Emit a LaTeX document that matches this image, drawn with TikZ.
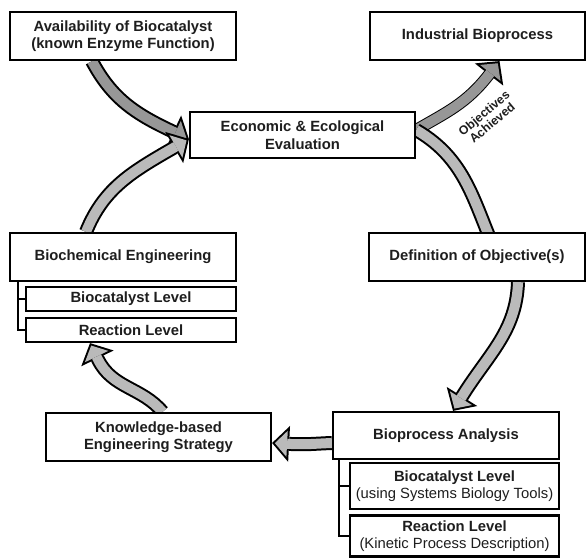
\documentclass[tikz,border=0pt]{standalone}
\usepackage{fontspec}
\setmainfont{Liberation Sans}
\usetikzlibrary{arrows.meta,backgrounds}
\definecolor{arrowdark}{HTML}{979797}
\definecolor{arrowlight}{HTML}{BABABA}
\definecolor{inktext}{HTML}{1E1E1E}
\tikzset{
  stagebox/.style={draw, line width=2.2pt, fill=white, align=center, inner sep=0pt,
    font=\fontsize{14.8}{17.5}\selectfont\bfseries, text=inktext},
  flow/.style={line width=14pt, draw=black,
    -{Triangle[length=17pt,width=36pt,line width=0pt]},
    postaction={draw=#1, line width=10pt, shorten >=2.75pt,
      -{Triangle[length=12.25pt,width=26pt,line width=0pt,fill=#1]}}},
  bracket/.style={line width=2pt},
}
\begin{document}
\begin{tikzpicture}[x=1pt,y=1pt]
\useasboundingbox (0,0) rectangle (588,557);

% Kreislauf oben
\node[stagebox, minimum width=226pt, minimum height=48pt] (avail) at (123,521)
  {Availability of Biocatalyst\\(known Enzyme Function)};
\node[stagebox, minimum width=225pt, minimum height=46pt] (econ) at (302.5,422)
  {Economic \& Ecological\\Evaluation};
\node[stagebox, minimum width=215pt, minimum height=48pt] (indus) at (477.5,521)
  {Industrial Bioprocess};

% links
\node[stagebox, minimum width=226pt, minimum height=48pt] (biochem) at (123,300)
  {Biochemical Engineering};
\node[stagebox, minimum width=210pt, minimum height=24pt] (bcllevel) at (131,258)
  {Biocatalyst Level};
\node[stagebox, minimum width=210pt, minimum height=24pt] (rllevel) at (131,227)
  {Reaction Level};
\draw[bracket] ([xshift=9pt]biochem.south west) |- (rllevel.west);
\draw[bracket] ([xshift=9pt]biochem.south west |- bcllevel.west) -- (bcllevel.west);

% rechts
\node[stagebox, minimum width=216pt, minimum height=48pt] (defobj) at (477,300)
  {Definition of Objective(s)};
\node[stagebox, minimum width=226pt, minimum height=47pt] (analysis) at (446,121.5)
  {Bioprocess Analysis};
\node[stagebox, minimum width=209pt, minimum height=46pt] (bclsystems) at (454.5,71)
  {Biocatalyst Level\\{\mdseries(using Systems Biology Tools)}};
\node[stagebox, minimum width=209pt, minimum height=41pt] (rlkinetic) at (454.5,21)
  {Reaction Level\\{\mdseries(Kinetic Process Description)}};
\draw[bracket] ([xshift=7pt]analysis.south west) |- (rlkinetic.west);
\draw[bracket] ([xshift=7pt]analysis.south west |- bclsystems.west) -- (bclsystems.west);

% unten
\node[stagebox, minimum width=225pt, minimum height=48pt] (strategy) at (158.5,120)
  {Knowledge-based\\Engineering Strategy};

% Pfeile (letztes Stueck gerade, damit die Spitze sauber sitzt)
\begin{scope}[on background layer]
  \draw[flow=arrowdark] ([xshift=-31pt]avail.south)
    to[out=-62,in=155] ([shift={(155:18pt)},yshift=-4pt]econ.west) -- ([yshift=-4pt]econ.west);
  \draw[flow=arrowlight] ([xshift=-37pt]biochem.north)
    to[out=68,in=-150] ([shift={(-150:18pt)},yshift=-4pt]econ.west) -- ([yshift=-4pt]econ.west);
  \draw[flow=arrowdark, line width=12pt] ([yshift=5pt]econ.east)
    to[out=30,in=-128] ([shift={(-128:18pt)},xshift=22pt]indus.south) -- ([xshift=22pt]indus.south);
  \draw[flow=arrowlight] ([yshift=5pt]econ.east)
    to[out=-30,in=116] ([shift={(116:18pt)},xshift=33pt]defobj.south) -- ([xshift=33pt]defobj.south);
  \draw[flow=arrowlight] ([xshift=41pt]defobj.south)
    to[out=-92,in=58] ([shift={(58:18pt)},xshift=7pt]analysis.north) -- ([xshift=7pt]analysis.north);
  \draw[flow=arrowlight] ([yshift=-7.5pt]analysis.west)
    to[out=182,in=-3] ([shift={(-3:18pt)},yshift=-6pt]strategy.east) -- ([yshift=-6pt]strategy.east);
  \draw[flow=arrowlight] ([xshift=4pt]strategy.north)
    to[out=130,in=-64] ([shift={(-64:18pt)},xshift=-41pt]rllevel.south) -- ([xshift=-41pt]rllevel.south);
\end{scope}

\node[rotate=40, align=center, text=inktext, font=\fontsize{12.3}{12.5}\selectfont\bfseries]
  (achieved) at (488,439) {Objectives\\Achieved};
\end{tikzpicture}
\end{document}
